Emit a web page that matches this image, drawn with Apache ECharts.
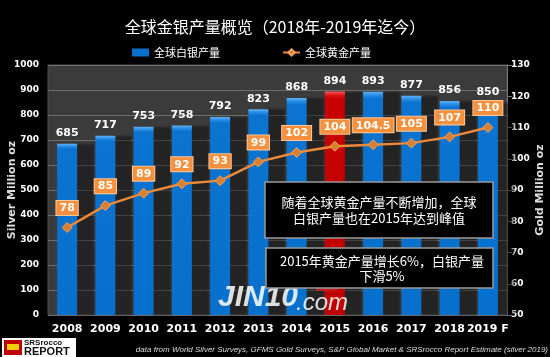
<!DOCTYPE html>
<html><head><meta charset="utf-8">
<script src="https://cdn.jsdelivr.net/npm/echarts@6/dist/echarts.min.js"></script>
<style>html,body{margin:0;padding:0;background:#000}#c{width:550px;height:357px}</style>
</head><body><div id="c"></div>
<script>
const categories = ['2008','2009','2010','2011','2012','2013','2014','2015','2016','2017','2018','2019 F'];
const silverProduction = [685,717,753,758,792,823,868,894,893,877,856,850];
const goldProduction = [78,85,89,92,93,99,102,104,104.5,105,107,110];
const highlightCategory = '2015';
const silverName = '全球白银产量';
const goldName = '全球黄金产量';
const titleText = '全球金银产量概览（2018年-2019年迄今）';
const note1 = '随着全球黄金产量不断增加，全球\n白银产量也在2015年达到峰值';
const note2 = '2015年黄金产量增长6%，白银产量\n下滑5%';
const sourceText = 'data from World Silver Surveys, GFMS Gold Surveys, S&P Global Market & SRSrocco Report Estimate (silver 2019)';

const blueGrad = new echarts.graphic.LinearGradient(0,0,0,1,[
  {offset:0,color:'#5fb0f5'},{offset:0.015,color:'#2a8ee6'},{offset:0.03,color:'#0a74d0'},{offset:1,color:'#0670cc'}]);
const redGrad = new echarts.graphic.LinearGradient(0,0,0,1,[
  {offset:0,color:'#ff5a5a'},{offset:0.015,color:'#e01b1b'},{offset:0.03,color:'#c80000'},{offset:1,color:'#c00000'}]);

const barData = silverProduction.map((v,i)=>({
  value:v,
  itemStyle:{color: categories[i]===highlightCategory ? redGrad : blueGrad}
}));

const chart = echarts.init(document.getElementById('c'), null, {renderer:'canvas'});
const numFont = 'DejaVu Sans';
chart.setOption({
  backgroundColor:'#000',
  animation:false,
  title:{text:titleText,left:270,textAlign:'center',top:14,
    textStyle:{color:'#fff',fontSize:16,fontWeight:'normal',fontFamily:'Noto Sans CJK SC'}},
  legend:{left:127,top:42,itemGap:62,itemWidth:17,itemHeight:8,
    textStyle:{color:'#fff',fontSize:11,fontFamily:'Noto Sans CJK SC'},
    data:[{name:silverName,icon:'rect'},{name:goldName}]},
  grid:{left:48,right:43,top:65,bottom:42,containLabel:false,outerBoundsMode:'none',show:true,backgroundColor:'#3b3b3b',borderColor:'#505050',borderWidth:1},
  xAxis:{type:'category',data:categories,
    axisLine:{show:false},axisTick:{show:false},
    axisLabel:{interval:0,color:'#fff',fontWeight:'bold',fontSize:11,fontFamily:numFont,margin:9}},
  yAxis:[
    {type:'value',min:0,max:1000,interval:100,name:'Silver Million oz',nameLocation:'middle',nameRotate:90,nameGap:30,nameMoveOverlap:false,
     nameTextStyle:{color:'#ddd',fontWeight:'bold',fontSize:11,fontFamily:numFont},
     axisLine:{show:false},axisTick:{show:false},
     axisLabel:{color:'#fff',fontWeight:'bold',fontSize:9,fontFamily:numFont,margin:9,formatter:v=>String(v)},
     splitLine:{lineStyle:{color:'#6e6e6e',width:1}}},
    {type:'value',min:50,max:130,interval:10,position:'right',name:'Gold Million oz',nameLocation:'middle',nameRotate:90,nameGap:28,nameMoveOverlap:false,
     nameTextStyle:{color:'#ddd',fontWeight:'bold',fontSize:11,fontFamily:numFont},
     axisLine:{show:true,lineStyle:{color:'#777'}},axisTick:{show:true,length:5,lineStyle:{color:'#777'}},
     axisLabel:{color:'#fff',fontWeight:'bold',fontSize:9,fontFamily:numFont,margin:4,formatter:v=>String(v)},
     splitLine:{show:false}}
  ],
  series:[
    {name:silverName,type:'bar',data:barData,barWidth:20,yAxisIndex:0,
     itemStyle:{color:'#0670cc',shadowColor:'rgba(0,0,0,0.4)',shadowOffsetX:17,shadowBlur:2},
     label:{show:true,position:'top',distance:5,color:'#fff',fontWeight:'bold',fontSize:11,fontFamily:numFont}},
    {name:goldName,type:'line',data:goldProduction,yAxisIndex:1,z:5,
     lineStyle:{color:'#ec8a3a',width:2.5},
     symbol:'diamond',symbolSize:10,itemStyle:{color:'#d98030',borderColor:'#f0a060',borderWidth:1},
     label:{show:true,position:'top',distance:7,color:'#fff',fontWeight:'bold',fontSize:11,fontFamily:numFont,
       backgroundColor:'#f5903e',borderColor:'#fcc79a',borderWidth:1,padding:[2,3,1,3]}}
  ],
  graphic:[
    {type:'text',left:218,top:283,z:10,style:{text:'JIN10',fill:'rgba(255,255,255,0.85)',font:'italic bold 30px "Liberation Sans"'}},
    {type:'text',left:296,top:291,z:10,style:{text:'.com',fill:'rgba(255,255,255,0.85)',font:'italic 24px "Liberation Sans"'}},
    {type:'text',left:302,top:283,z:10,style:{text:'24h',fill:'rgba(255,255,255,0.8)',font:'italic 7px "Liberation Sans"'}},
    {type:'rect',left:316,top:283,z:10,shape:{width:21,height:8},style:{fill:'rgba(200,30,30,0.85)'}},
    {type:'text',left:317,top:283,z:11,style:{text:'NEWS',fill:'#fff',font:'italic bold 7px "Liberation Sans"'}},
    {type:'rect',z:20,shape:{x:265,y:182,width:228,height:56},style:{fill:'#000',stroke:'#9a9a9a',lineWidth:1.5}},
    {type:'text',z:21,style:{x:379,y:210,text:note1,fill:'#fff',font:'13px "Noto Sans CJK SC"',align:'center',verticalAlign:'middle',lineHeight:16}},
    {type:'rect',z:20,shape:{x:266,y:248,width:227,height:40},style:{fill:'#000',stroke:'#9a9a9a',lineWidth:1.5}},
    {type:'text',z:21,style:{x:382,y:269,text:note2,fill:'#fff',font:'13px "Noto Sans CJK SC"',align:'center',verticalAlign:'middle',lineHeight:15}},
    {type:'text',z:10,style:{x:548,y:350,text:sourceText,fill:'#dcdcdc',font:'italic 8px "Liberation Sans"',align:'right',verticalAlign:'middle'}},
    {type:'rect',z:10,shape:{x:2,y:338,width:74,height:19},style:{fill:'#fff'}},
    {type:'rect',z:11,shape:{x:4,y:340,width:18,height:15},style:{fill:'#c00000'}},
    {type:'rect',z:12,shape:{x:7,y:344,width:12,height:6},style:{fill:'#f0d000'}},
    {type:'text',z:11,style:{x:24,y:339,text:'SRSrocco',fill:'#111',font:'bold 8px "Liberation Sans"'}},
    {type:'text',z:11,style:{x:24,y:346,text:'REPORT',fill:'#111',font:'bold 11px "Liberation Sans"'}}
  ]
});
</script></body></html>
